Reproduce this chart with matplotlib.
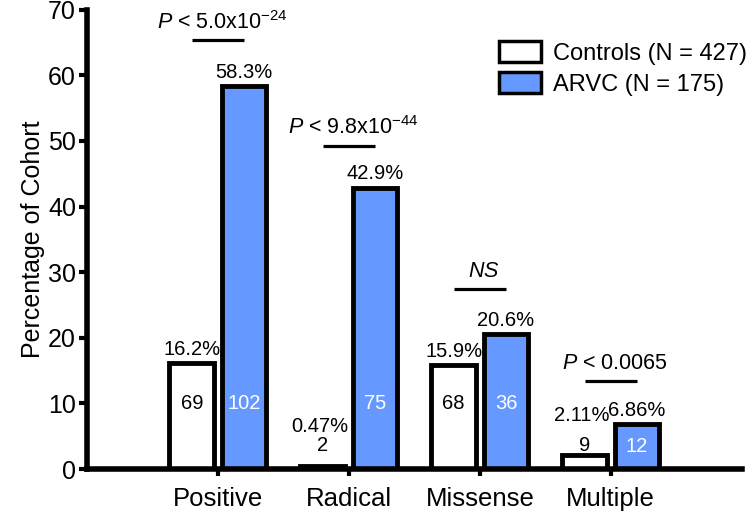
import matplotlib
matplotlib.use("Agg")
import matplotlib.pyplot as plt
from matplotlib.patches import Patch
import numpy as np

plt.rcParams.update({
    "font.family": "Liberation Sans",
    "mathtext.fontset": "custom",
    "mathtext.rm": "Liberation Sans",
    "mathtext.it": "Liberation Sans:italic",
})

categories = ["Positive", "Radical", "Missense", "Multiple"]
controls_pct = [16.2, 0.47, 15.9, 2.11]
arvc_pct = [58.3, 42.9, 20.6, 6.86]
controls_n = [69, 2, 68, 9]
arvc_n = [102, 75, 36, 12]
controls_pct_labels = ["16.2%", "0.47%", "15.9%", "2.11%"]
arvc_pct_labels = ["58.3%", "42.9%", "20.6%", "6.86%"]
p_labels = [r"$\it{P}$ < 5.0x10$^{\rm{-24}}$", r"$\it{P}$ < 9.8x10$^{\rm{-44}}$",
            r"$\it{NS}$", r"$\it{P}$ < 0.0065"]
p_line_y = [65.4, 49.3, 27.4, 13.4]
legend_labels = ["Controls (N = 427)", "ARVC (N = 175)"]

blue = "#6699ff"
lw = 3.5
off, width = 0.2, 0.34
fs = 14.5

fig = plt.figure(figsize=(7.5, 5.19), dpi=100)
ax = fig.add_axes([0.116, 0.0963, 0.873, 0.885])

x = np.arange(len(categories))
ax.bar(x - off, controls_pct, width, color="white", edgecolor="black", linewidth=lw, zorder=2)
ax.bar(x + off, arvc_pct, width, color=blue, edgecolor="black", linewidth=lw, zorder=2)

for i in range(len(categories)):
    # percentages above bars, counts inside
    if controls_pct[i] > 5:
        ax.annotate(controls_pct_labels[i], (x[i] - off, controls_pct[i]), xytext=(0, 3),
                    textcoords="offset points", ha="center", va="bottom", fontsize=fs)
        ax.text(x[i] - off, 10, str(controls_n[i]), ha="center", va="center", fontsize=fs)
    else:
        ax.text(x[i] - off, 3.6, str(controls_n[i]), ha="center", va="center", fontsize=fs)
        ax.text(x[i] - off - 0.02, controls_pct[i] + 6, controls_pct_labels[i], ha="center",
                va="center", fontsize=fs)
    ax.annotate(arvc_pct_labels[i], (x[i] + off, arvc_pct[i]), xytext=(0, 3),
                textcoords="offset points", ha="center", va="bottom", fontsize=fs)
    n_y = 10 if arvc_pct[i] > 10 else arvc_pct[i] / 2
    ax.text(x[i] + off, n_y, str(arvc_n[i]), ha="center", va="center", fontsize=fs, color="white")
    # significance bars
    ax.plot([x[i] - off, x[i] + off], [p_line_y[i], p_line_y[i]], color="black", lw=2.3,
            solid_capstyle="butt")
    ax.text(x[i] + 0.03, p_line_y[i] + 2.7, p_labels[i], ha="center", va="center", fontsize=15.5)

ax.set_xlim(-1, 4)
ax.set_ylim(0, 70)
ax.set_yticks(range(0, 71, 10))
ax.set_xticks(x)
ax.set_xticklabels(categories, fontsize=18.5)
ax.tick_params(axis="y", labelsize=18, width=3, length=6, pad=2)
ax.tick_params(axis="x", width=3, length=5, pad=8)
ax.set_ylabel("Percentage of Cohort", fontsize=18, labelpad=2)

for s in ["top", "right"]:
    ax.spines[s].set_visible(False)
for s in ["left", "bottom"]:
    ax.spines[s].set_linewidth(4)
    ax.spines[s].set_zorder(3)

handles = [Patch(facecolor="white", edgecolor="black", linewidth=2.5),
           Patch(facecolor=blue, edgecolor="black", linewidth=2.5)]
ax.legend(handles, legend_labels, loc="upper right", bbox_to_anchor=(1.03, 0.962), frameon=False,
          fontsize=17, handlelength=1.8, handleheight=1.0, handletextpad=0.5, labelspacing=0.3,
          borderaxespad=0.2)

fig.savefig("out.png", dpi=100)
